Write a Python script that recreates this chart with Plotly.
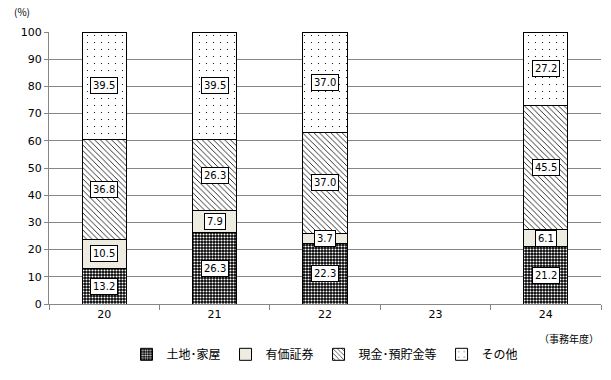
import plotly.graph_objects as go

categories = ["20", "21", "22", "23", "24"]
land = [13.2, 26.3, 22.3, None, 21.2]
securities = [10.5, 7.9, 3.7, None, 6.1]
cash = [36.8, 26.3, 37.0, None, 45.5]
other = [39.5, 39.5, 37.0, None, 27.2]
series_names = ["土地･家屋", "有価証券", "現金･預貯金等", "その他"]
y_ticks = [0, 10, 20, 30, 40, 50, 60, 70, 80, 90, 100]

series = [land, securities, cash, other]
patterns = [
    dict(shape=".", bgcolor="#000000", fgcolor="#ffffff", size=3, solidity=0.4, fillmode="replace"),
    dict(shape="", bgcolor="#EEECE1"),
    dict(shape="\\", bgcolor="#ffffff", fgcolor="#000000", size=4, solidity=0.2, fillmode="replace"),
    dict(shape=".", bgcolor="#ffffff", fgcolor="#000000", size=7, solidity=0.025, fillmode="replace"),
]
colors = ["#000000", "#EEECE1", "#ffffff", "#ffffff"]

fig = go.Figure()
for name, vals, pat, col in zip(series_names, series, patterns, colors):
    fig.add_trace(go.Bar(
        x=categories, y=vals, name=name,
        marker=dict(color=col, line=dict(color="#000000", width=1), pattern=pat),
        hoverinfo="skip",
    ))

# value labels in white boxes
annotations = []
for ci, cat in enumerate(categories):
    base = 0
    for vals in series:
        v = vals[ci]
        if v is None:
            continue
        annotations.append(dict(
            x=ci, y=base + v / 2, xref="x", yref="y", text=f"{v:.1f}",
            showarrow=False, bgcolor="#ffffff", bordercolor="#000000", borderwidth=1,
            borderpad=2, font=dict(family="DejaVu Sans", size=10, color="#000000"),
        ))
        base += v

annotations.append(dict(x=-0.067, y=1.075, xref="paper", yref="paper", text="(%)",
                        showarrow=False, xanchor="left", yanchor="middle",
                        font=dict(family="Noto Sans CJK JP", size=10, color="#000000")))
annotations.append(dict(x=1.0, y=-0.125, xref="paper", yref="paper", text="（事務年度）",
                        showarrow=False, xanchor="right", yanchor="middle",
                        font=dict(family="Noto Sans CJK JP", size=10, color="#000000")))

fig.update_layout(
    barmode="stack",
    bargap=0.6,
    width=611, height=380,
    margin=dict(l=49, r=10, t=32, b=76),
    paper_bgcolor="#ffffff", plot_bgcolor="#ffffff",
    showlegend=True,
    legend=dict(orientation="h", x=0.5, xanchor="center", y=-0.185, yanchor="middle",
                font=dict(family="Noto Sans CJK JP", size=12, color="#000000"),
                traceorder="normal", itemwidth=30),
    annotations=annotations,
    font=dict(family="DejaVu Sans", size=11, color="#000000"),
)
fig.update_xaxes(
    type="category", categoryorder="array", categoryarray=categories,
    range=[-0.5, len(categories) - 0.5], tickangle=0,
    showline=True, linecolor="#868686", linewidth=1,
    ticks="outside", ticklen=5, tickcolor="#868686", tickson="boundaries",
    showgrid=False, tickfont=dict(family="DejaVu Sans", size=11, color="#000000"),
)
fig.update_yaxes(
    range=[0, 100], tickvals=y_ticks, showline=True, linecolor="#868686", linewidth=1,
    ticks="outside", ticklen=4, tickcolor="#868686",
    showgrid=True, gridcolor="#868686", gridwidth=1, zeroline=False,
    tickfont=dict(family="DejaVu Sans", size=11, color="#000000"),
)

fig.write_html("out.html", config={"displayModeBar": False},
               post_script="document.body.style.margin='0';")
